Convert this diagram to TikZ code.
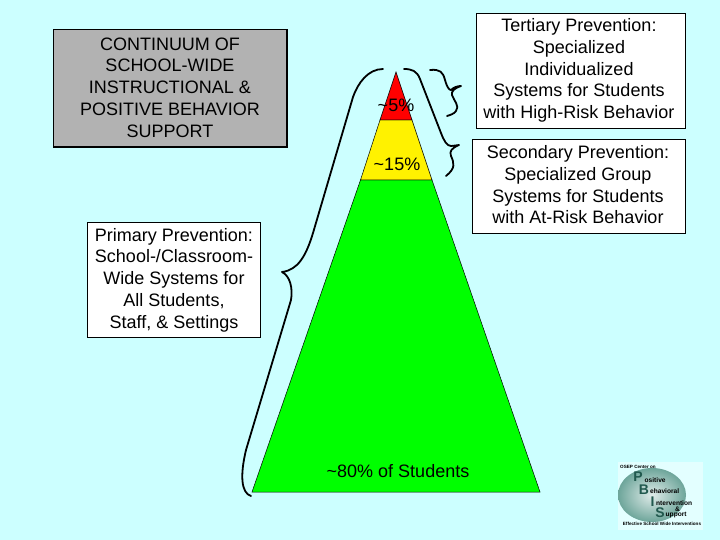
\documentclass[tikz,border=0pt]{standalone}
\usepackage{fontspec}
\setmainfont{Liberation Sans}
\usetikzlibrary{shadings}
\definecolor{bgc}{HTML}{CCFFFF}
\definecolor{boxgray}{HTML}{B2B2B2}
\definecolor{logoteal}{HTML}{2F7F6F}
\tikzset{
  x=1pt,y=-1pt,
  txt/.style={font=\fontsize{18}{21.7}\selectfont,align=center,text=black,inner sep=0pt},
  boxw/.style={draw=black,fill=white,line width=0.8pt},
  tier/.style={draw=black,line width=0.5pt},
  brace/.style={draw=black,line width=1.8pt,line cap=round,line join=round},
  logotxt/.style={font=\fontsize{4.6}{6}\selectfont\bfseries,text=black,inner sep=0pt},
  logoword/.style={font=\fontsize{6.6}{8}\selectfont\bfseries,text=black,inner sep=0pt,anchor=west},
  logoletter/.style={font=\fontsize{14}{14}\selectfont\bfseries,text=logoteal!70!black,inner sep=0pt,anchor=center}
}
\begin{document}
\begin{tikzpicture}
\useasboundingbox (0,0) rectangle (720,540);
\fill[bgc] (0,0) rectangle (720,540);
% title box
\draw[fill=boxgray,draw=black,line width=1.6pt] (53.5,29.5) rectangle (287,147);
\node[txt] (title) at (170,87.5) {CONTINUUM OF\\SCHOOL-WIDE\\INSTRUCTIONAL \&\\POSITIVE BEHAVIOR\\SUPPORT};
% pyramid
\draw[tier,fill=green] (360.5,180) -- (432,180) -- (540,492) -- (252,492) -- cycle;
\draw[tier,fill=yellow] (380,120) -- (412,120) -- (432,180) -- (360.5,180) -- cycle;
\draw[tier,fill=red] (396,72) -- (412,120) -- (380,120) -- cycle;
\node[txt] (five) at (396,105) {\textasciitilde 5\%};
\node[txt] (fifteen) at (397,164) {\textasciitilde 15\%};
\node[txt] (eighty) at (398,471) {\textasciitilde 80\% of Students};
% boxes
\draw[boxw] (476,13) rectangle (685,128);
\node[txt] (tert) at (579,70.5) {Tertiary Prevention:\\Specialized\\Individualized\\Systems for Students\\with High-Risk Behavior};
\draw[boxw] (472,139) rectangle (685,233);
\node[txt] (sec) at (578,185) {Secondary Prevention:\\Specialized Group\\Systems for Students\\with At-Risk Behavior};
\draw[boxw] (87,222) rectangle (260,337);
\node[txt] (prim) at (174,280) {Primary Prevention:\\School-/Classroom-\\Wide Systems for\\All Students,\\Staff, \& Settings};
% braces
\draw[brace] (383,69) .. controls (368,69) and (358,83) .. (353,97)
  -- (313,233) .. controls (306,256) and (298,270) .. (282,272)
  .. controls (290,276) and (293,288) .. (291,300)
  -- (246,450) .. controls (240,475) and (241,493) .. (251,496);
\draw[brace] (430,70) .. controls (440,69) and (443,72) .. (445,80)
  .. controls (447,87) and (449,90) .. (451,90)
  .. controls (454,87) and (458,86) .. (461,86)
  .. controls (455,88) and (451,91) .. (452,95)
  .. controls (454,101) and (460,106) .. (456,111)
  .. controls (454,114) and (450,115) .. (447,116);
\draw[brace] (404,69) .. controls (412,69) and (417,71) .. (420,79)
  -- (441,133) .. controls (444,141) and (447,146) .. (451,146)
  .. controls (454,146) and (457,145) .. (459,145)
  .. controls (452,148) and (449,151) .. (451,156)
  .. controls (454,163) and (456,168) .. (446,176);
% logo
\fill[white!45!bgc] (618,462) rectangle (703,530);
\shade[inner color=white!85!logoteal,outer color=logoteal!70!white] (652,495) ellipse [x radius=34, y radius=27];
\node[logotxt,anchor=west] (l0) at (620,467) {OSEP Center on};
\node[logoletter] (lp) at (638,477) {P};
\node[logoletter] (lb) at (644,490) {B};
\node[logoletter] (li) at (652.5,502) {I};
\node[logoletter] (ls) at (660,513) {S};
\node[logoword] (l1) at (644.5,480) {ositive};
\node[logoword] (l2) at (650,491) {ehavioral};
\node[logoword] (l3) at (656,503) {ntervention};
\node[logoword] (l3b) at (675,509.5) {\&};
\node[logoword] (l4) at (665.5,515.5) {upport};
\node[logotxt,anchor=center] (l5) at (662,524) {Effective School Wide Interventions};
\end{tikzpicture}
\end{document}
